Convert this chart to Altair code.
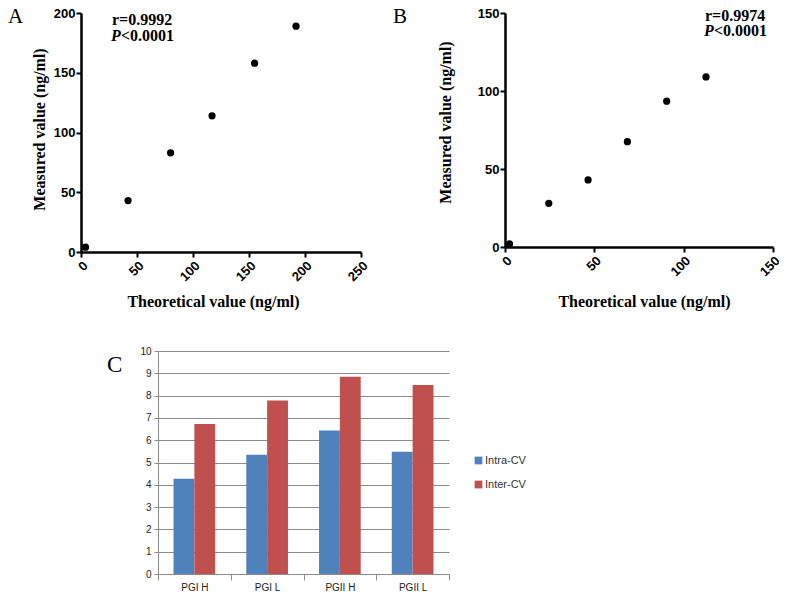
import altair as alt
import pandas as pd

# ---------------- data ----------------
# Panel A
a_theoretical = [4, 42, 80, 117, 155, 192]
a_measured = [4, 43, 83, 114, 158, 189]
a_x_ticks = [0, 50, 100, 150, 200, 250]
a_y_ticks = [0, 50, 100, 150, 200]
# Panel B
b_theoretical = [2.5, 24.5, 46.5, 68.5, 90.5, 112.5]
b_measured = [2, 28, 43, 67.5, 93.5, 109]
b_x_ticks = [0, 50, 100, 150]
b_y_ticks = [0, 50, 100, 150]
# Panel C
c_categories = ["PGI H", "PGI L", "PGII H", "PGII L"]
c_series = ["Intra-CV", "Inter-CV"]
c_intra = [4.27, 5.35, 6.43, 5.48]
c_inter = [6.73, 7.78, 8.85, 8.47]
c_y_ticks = list(range(0, 11))
c_colors = ["#4F81BD", "#C0504D"]

W, H = 771, 583
SERIF = "Liberation Serif"
SANS = "Liberation Sans"
NARROW = "Liberation Sans Narrow, Liberation Sans"


def sci_x_axis(values, offset, title_x, title_y):
    return alt.Axis(
        orient="bottom", offset=offset, values=values,
        title="Theoretical value (ng/ml)",
        labelAngle=-45, labelFont=SANS, labelFontSize=13, labelFontWeight="bold",
        labelColor="black", labelPadding=2, labelFlush=False, labelOverlap=False,
        domainColor="black", domainWidth=2.5, tickColor="black", tickWidth=2, tickSize=5,
        grid=False, titleFont=SERIF, titleFontSize=16, titleFontWeight="bold",
        titleColor="black", titleX=title_x, titleY=title_y,
        titleBaseline="alphabetic", titleAlign="center",
    )


def sci_y_axis(values, offset, title_x, title_y):
    return alt.Axis(
        orient="left", offset=offset, values=values,
        title="Measured value (ng/ml)",
        labelFont=SANS, labelFontSize=13, labelFontWeight="bold",
        labelColor="black", labelPadding=1, labelFlush=False, labelOverlap=False,
        domainColor="black", domainWidth=2.5, tickColor="black", tickWidth=2, tickSize=5,
        grid=False, titleFont=SERIF, titleFontSize=16, titleFontWeight="bold",
        titleColor="black", titleX=title_x, titleY=title_y, titleAngle=270,
        titleBaseline="alphabetic", titleAlign="center",
    )


# ---------------- panel A ----------------
df_a = pd.DataFrame({"t": a_theoretical, "m": a_measured})
panel_a = alt.Chart(df_a).mark_circle(size=52, color="black", opacity=1).encode(
    x=alt.X("t:Q", scale=alt.Scale(domain=[0, 250], range=[73, 353], nice=False),
            axis=sci_x_axis(a_x_ticks, 244 - H, 205, 54)),
    y=alt.Y("m:Q", scale=alt.Scale(domain=[0, 200], range=[244, 5], nice=False),
            axis=sci_y_axis(a_y_ticks, -73, -37, 121)),
)

# ---------------- panel B ----------------
df_b = pd.DataFrame({"t": b_theoretical, "m": b_measured})
panel_b = alt.Chart(df_b).mark_circle(size=52, color="black", opacity=1).encode(
    x=alt.X("t:Q", scale=alt.Scale(domain=[0, 150], range=[497, 765], nice=False),
            axis=sci_x_axis(b_x_ticks, 239 - H, 636, 59)),
    y=alt.Y("m:Q", scale=alt.Scale(domain=[0, 150], range=[239, 5], nice=False),
            axis=sci_y_axis(b_y_ticks, -497, -55, 114)),
)

# ---------------- panel C ----------------
df_c = pd.DataFrame({
    "cat": c_categories * 2,
    "series": [c_series[0]] * 4 + [c_series[1]] * 4,
    "v": c_intra + c_inter,
})
panel_c = alt.Chart(df_c).mark_bar().encode(
    x=alt.X("cat:N", sort=c_categories,
            scale=alt.Scale(range=[150, 441], paddingInner=0, paddingOuter=0),
            axis=alt.Axis(orient="bottom", offset=566 - H, tickBand="extent",
                          labelAngle=0, title=None, grid=False,
                          domainColor="#8c8c8c", domainWidth=1,
                          tickColor="#8c8c8c", tickSize=6,
                          labelFont=NARROW, labelFontSize=10, labelColor="#222",
                          labelPadding=2)),
    xOffset=alt.XOffset("series:N", sort=c_series,
                        scale=alt.Scale(paddingInner=0, paddingOuter=0.745)),
    y=alt.Y("v:Q", scale=alt.Scale(domain=[0, 10], range=[566, 343], nice=False),
            axis=alt.Axis(orient="left", offset=-150, values=c_y_ticks, title=None,
                          grid=True, gridColor="#8c8c8c", gridWidth=1,
                          domainColor="#8c8c8c", domainWidth=1,
                          tickColor="#8c8c8c", tickSize=4,
                          labelFont=NARROW, labelFontSize=10, labelColor="#222",
                          labelPadding=3, labelFlush=False, labelOverlap=False)),
    color=alt.Color("series:N", sort=c_series,
                    scale=alt.Scale(domain=c_series, range=c_colors),
                    legend=alt.Legend(orient="none", legendX=465, legendY=447,
                                      title=None, symbolType="square", symbolSize=60,
                                      symbolStrokeWidth=0, labelFont=NARROW,
                                      labelFontSize=11, labelColor="#333",
                                      rowPadding=12, labelOffset=1)),
)


# ---------------- text annotations ----------------
def label(text, x, y, size, font=SERIF, weight="normal", style="normal"):
    return alt.Chart(pd.DataFrame({"t": [text]})).mark_text(
        align="left", baseline="alphabetic", font=font, fontSize=size,
        fontWeight=weight, fontStyle=style, color="black",
    ).encode(text="t:N", x=alt.value(x), y=alt.value(y))


texts = [
    label("A", 0, 15, 21),
    label("B", 385, 15, 21),
    label("C", 99, 364, 23),
    label("r=0.9992", 104, 17, 16, weight="bold"),
    label("P", 103, 33, 16, weight="bold", style="italic"),
    label("<0.0001", 113, 33, 16, weight="bold"),
    label("r=0.9974", 697, 13, 16, weight="bold"),
    label("P", 696, 28, 16, weight="bold", style="italic"),
    label("<0.0001", 706, 28, 16, weight="bold"),
]

chart = alt.layer(panel_a, panel_b, panel_c, *texts).resolve_scale(
    x="independent", y="independent"
).properties(
    width=W, height=H, padding=0,
    autosize=alt.AutoSizeParams(type="none"),
    background="white",
).configure_view(strokeWidth=0)

chart.save("out.html", embed_options={"renderer": "svg", "actions": False})
